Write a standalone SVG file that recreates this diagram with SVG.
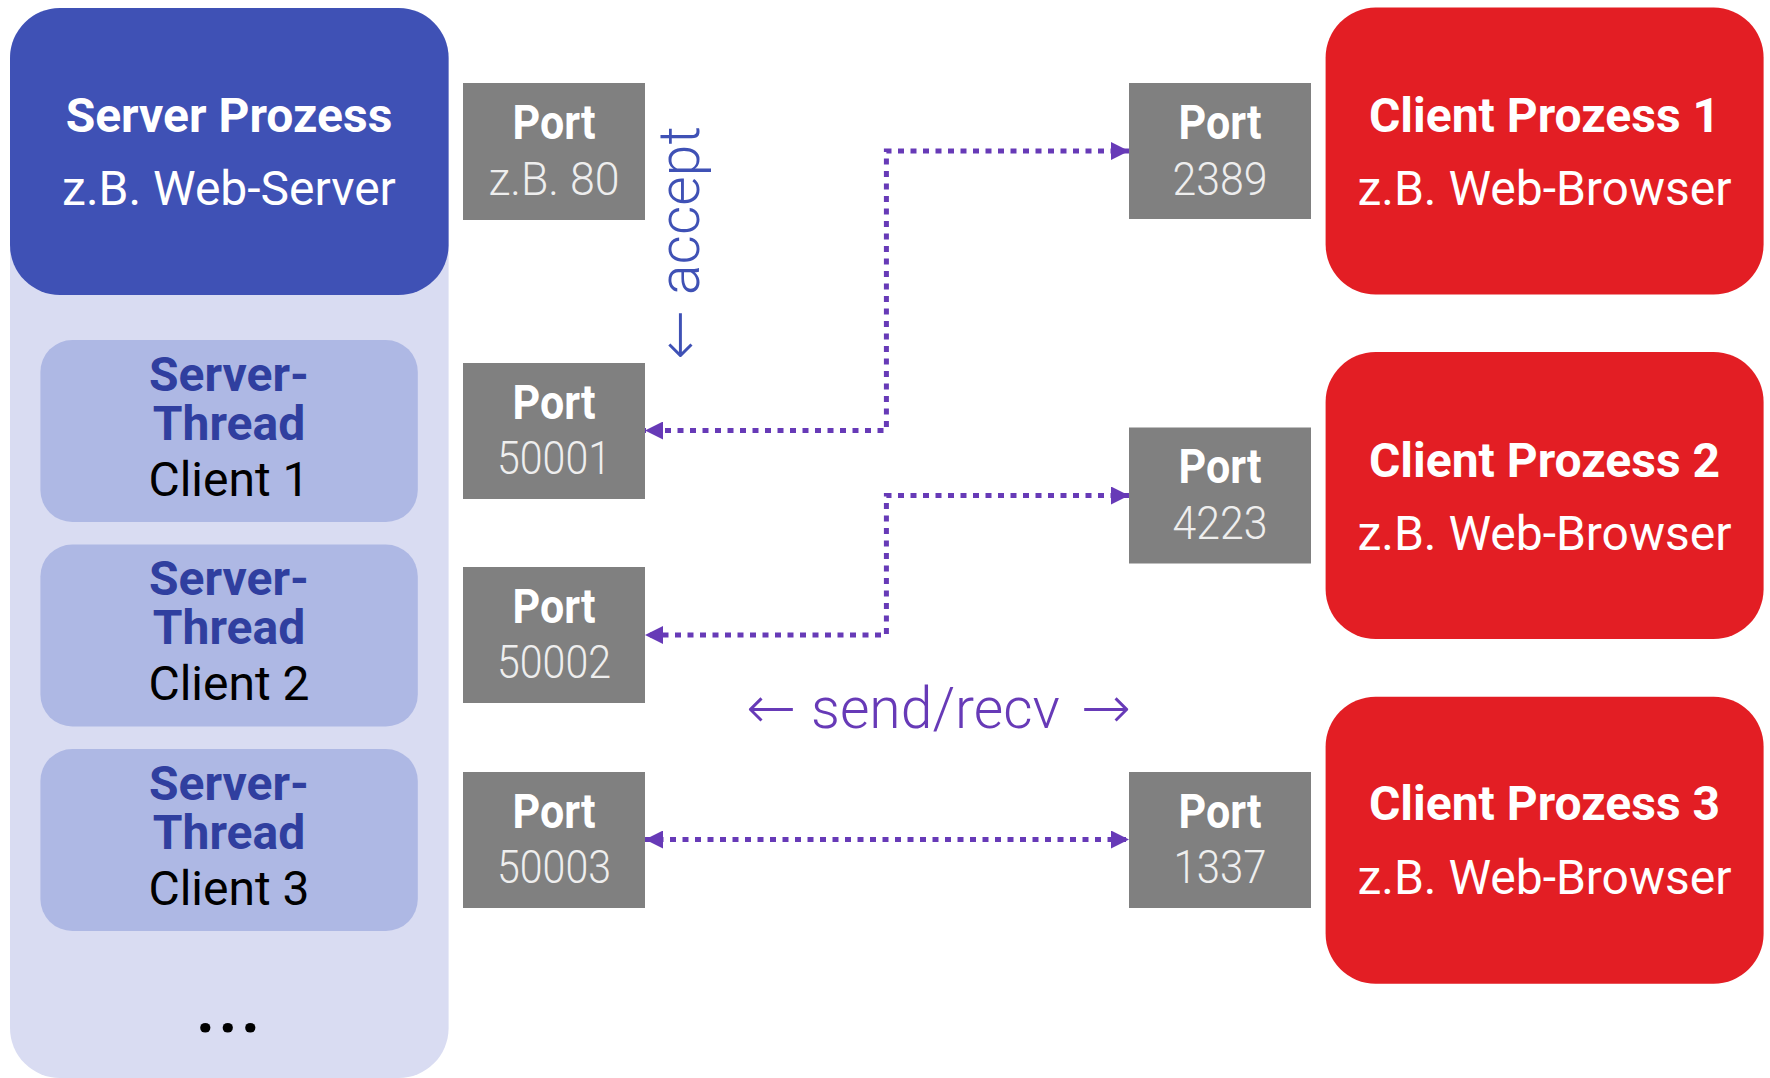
<svg xmlns="http://www.w3.org/2000/svg" width="1770" height="1078" viewBox="0 0 1770 1078">
<style>
text { font-family: Roboto, "Liberation Sans", sans-serif; }
.t-big-b { font-size: 48px; font-weight: 700; fill: #ffffff; text-anchor: middle; }
.t-big { font-size: 48px; font-weight: 400; fill: #ffffff; text-anchor: middle; }
.t-thr-b { font-size: 48px; font-weight: 700; fill: #303f9f; text-anchor: middle; }
.t-thr { font-size: 48px; font-weight: 400; fill: #000000; text-anchor: middle; }
.port { fill: #808080; }
.p-b { font-size: 48px; font-weight: 700; fill: #ffffff; text-anchor: middle; }
.p-n { font-size: 46px; font-weight: 300; fill: #eeeeee; text-anchor: middle; }
.client { fill: #e31e24; }
.thread { fill: #aeb8e4; }
.conn { fill: none; stroke: #673ab7; stroke-width: 5; stroke-dasharray: 6 6.5; }
.lbl { font-size: 57px; font-weight: 300; }
.ar { font-family: "DejaVu Sans Light", "DejaVu Sans", sans-serif; font-weight: 200; font-size: 60px; }
</style>
<defs>
<marker id="arr" viewBox="0 0 18 18" refX="18" refY="9" markerWidth="18" markerHeight="18" markerUnits="userSpaceOnUse" orient="auto-start-reverse">
<path d="M0,0 L18,9 L0,18 z" fill="#673ab7"/>
</marker>
</defs>

<g id="server">
<rect x="10" y="8" width="438.6" height="1070" rx="50" fill="#d9dcf2"/>
<rect x="10" y="8" width="438.6" height="287" rx="50" fill="#3f51b5"/>
<text class="t-big-b" x="229" y="132">Server Prozess</text>
<text class="t-big" x="229" y="205">z.B. Web-Server</text>
<text x="230" y="1032" font-size="64" font-weight="700" text-anchor="middle" letter-spacing="4" fill="#000">...</text>
</g>

<g id="thread1">
<rect class="thread" x="40.4" y="340" width="377.4" height="182" rx="32"/>
<text class="t-thr-b" x="229" y="391">Server-</text>
<text class="t-thr-b" x="229" y="440">Thread</text>
<text class="t-thr" x="229" y="496">Client 1</text>
</g>
<g id="thread2">
<rect class="thread" x="40.4" y="544.5" width="377.4" height="182" rx="32"/>
<text class="t-thr-b" x="229" y="595">Server-</text>
<text class="t-thr-b" x="229" y="644">Thread</text>
<text class="t-thr" x="229" y="700">Client 2</text>
</g>
<g id="thread3">
<rect class="thread" x="40.4" y="749" width="377.4" height="182" rx="32"/>
<text class="t-thr-b" x="229" y="799.5">Server-</text>
<text class="t-thr-b" x="229" y="848.5">Thread</text>
<text class="t-thr" x="229" y="904.5">Client 3</text>
</g>

<g id="port80">
<rect class="port" x="463" y="83" width="182" height="137"/>
<text class="p-b" x="554" y="138.5" textLength="83" lengthAdjust="spacingAndGlyphs">Port</text>
<text class="p-n" x="554" y="194.5" textLength="131" lengthAdjust="spacingAndGlyphs">z.B. 80</text>
</g>
<g id="port50001">
<rect class="port" x="463" y="363" width="182" height="136"/>
<text class="p-b" x="554" y="418.5" textLength="83" lengthAdjust="spacingAndGlyphs">Port</text>
<text class="p-n" x="554" y="474" textLength="114" lengthAdjust="spacingAndGlyphs">50001</text>
</g>
<g id="port50002">
<rect class="port" x="463" y="567" width="182" height="136"/>
<text class="p-b" x="554" y="622.5" textLength="83" lengthAdjust="spacingAndGlyphs">Port</text>
<text class="p-n" x="554" y="678" textLength="114" lengthAdjust="spacingAndGlyphs">50002</text>
</g>
<g id="port50003">
<rect class="port" x="463" y="772" width="182" height="136"/>
<text class="p-b" x="554" y="827.5" textLength="83" lengthAdjust="spacingAndGlyphs">Port</text>
<text class="p-n" x="554" y="883" textLength="114" lengthAdjust="spacingAndGlyphs">50003</text>
</g>

<g id="port2389">
<rect class="port" x="1129" y="83" width="182" height="136"/>
<text class="p-b" x="1220" y="138.5" textLength="83" lengthAdjust="spacingAndGlyphs">Port</text>
<text class="p-n" x="1220" y="194.5" textLength="95" lengthAdjust="spacingAndGlyphs">2389</text>
</g>
<g id="port4223">
<rect class="port" x="1129" y="427.5" width="182" height="136"/>
<text class="p-b" x="1220" y="483" textLength="83" lengthAdjust="spacingAndGlyphs">Port</text>
<text class="p-n" x="1220" y="538.5" textLength="95" lengthAdjust="spacingAndGlyphs">4223</text>
</g>
<g id="port1337">
<rect class="port" x="1129" y="772" width="182" height="136"/>
<text class="p-b" x="1220" y="827.5" textLength="83" lengthAdjust="spacingAndGlyphs">Port</text>
<text class="p-n" x="1220" y="882.5" textLength="93" lengthAdjust="spacingAndGlyphs">1337</text>
</g>

<g id="client1">
<rect class="client" x="1325.6" y="7.6" width="438" height="287" rx="50"/>
<text class="t-big-b" x="1544.5" y="132">Client Prozess 1</text>
<text class="t-big" x="1544.5" y="205">z.B. Web-Browser</text>
</g>
<g id="client2">
<rect class="client" x="1325.6" y="352" width="438" height="287" rx="50"/>
<text class="t-big-b" x="1544.5" y="476.5">Client Prozess 2</text>
<text class="t-big" x="1544.5" y="549.5">z.B. Web-Browser</text>
</g>
<g id="client3">
<rect class="client" x="1325.6" y="696.7" width="438" height="287" rx="50"/>
<text class="t-big-b" x="1544.5" y="819.5">Client Prozess 3</text>
<text class="t-big" x="1544.5" y="893.5">z.B. Web-Browser</text>
</g>

<g id="connectors">
<path class="conn" d="M1129,151 H886.4 V430.5 H645" marker-start="url(#arr)" marker-end="url(#arr)"/>
<path class="conn" d="M1129,495.5 H886.4 V635 H645" marker-start="url(#arr)" marker-end="url(#arr)"/>
<path class="conn" d="M645,839.5 H1129" marker-start="url(#arr)" marker-end="url(#arr)"/>
<text class="lbl" fill="#3f51b5" transform="translate(699,356) rotate(-90)"><tspan class="ar" x="-4" y="0">←</tspan><tspan x="61" y="0">accept</tspan></text>
<text class="lbl" fill="#673ab7"><tspan class="ar" x="746" y="728">←</tspan><tspan x="811" y="728">send/recv</tspan><tspan class="ar" x="1081" y="728">→</tspan></text>
</g>
</svg>
